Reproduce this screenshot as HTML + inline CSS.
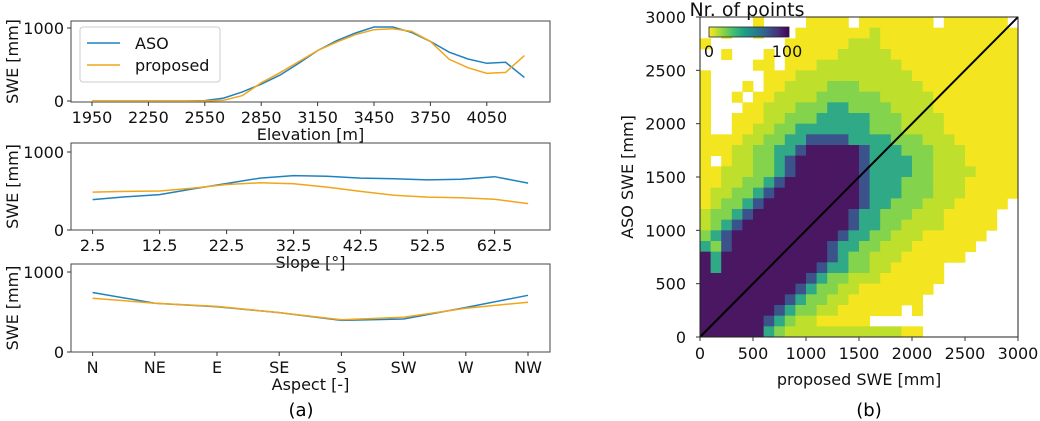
<!DOCTYPE html>
<html><head><meta charset="utf-8">
<style>
html,body{margin:0;padding:0;background:#fff;}
svg{display:block;font-family:"DejaVu Sans","Liberation Sans",sans-serif;}
</style></head>
<body>
<svg id="fig" width="1040" height="421" viewBox="0 0 1040 421" xmlns="http://www.w3.org/2000/svg">
<g id="left"></g>
<g id="right"></g>
<text x="301" y="416" font-size="18" text-anchor="middle">(a)</text>
<text x="869" y="416" font-size="18" text-anchor="middle">(b)</text>
</svg>
<script>
// ---------- Line chart data ----------
const elevCats = [1950,2050,2150,2250,2350,2450,2550,2650,2750,2850,2950,3050,3150,3250,3350,3450,3550,3650,3750,3850,3950,4050,4150,4250];
const elevASO  = [0,0,0,0,0,0,5,40,124,230,355,516,690,825,930,1014,1014,940,816,668,576,516,530,323];
const elevProp = [0,0,0,0,0,0,0,10,74,250,387,540,690,806,908,977,990,954,816,571,456,378,392,622];
const elevTicks = [1950,2250,2550,2850,3150,3450,3750,4050];
const slopeCats = [2.5,7.5,12.5,17.5,22.5,27.5,32.5,37.5,42.5,47.5,52.5,57.5,62.5,67.5];
const slopeASO  = [390,425,454,527,596,665,697,688,665,656,642,651,683,601];
const slopeProp = [486,495,500,537,583,605,592,550,495,445,422,413,394,339];
const slopeTicks = [2.5,12.5,22.5,32.5,42.5,52.5,62.5];
const aspectCats = ["N","NE","E","SE","S","SW","W","NW"];
const aspectASO  = [744,610,565,493,395,413,556,709];
const aspectProp = [673,610,570,493,404,435,547,623];
const yTicksLeft = [0,1000];
// ---------- Heatmap data (level 0..6 per 100 mm bin; top row = 2900-3000 mm) ----------
const heatRows = [
"00000 10000 11110 11111 11011 11110",
"00100 10001 11111 12111 11111 11111",
"10000 00011 11112 22111 11111 11111",
"00100 01011 11122 22211 11111 11111",
"00000 11011 12222 22221 11111 11111",
"10000 01112 22222 22222 11111 11111",
"10001 01122 22333 22222 21111 11111",
"10010 11222 23333 33222 22111 11111",
"10001 12223 33443 33322 22111 11111",
"10011 12233 34444 43332 22211 11111",
"10011 22334 44444 43332 22211 11111",
"11112 23344 55554 44433 32221 11111",
"11122 33445 66666 54443 33222 11111",
"10122 33456 66666 54444 33222 11111",
"11222 33456 66666 54444 33222 21111",
"11223 34566 66666 54443 33222 11111",
"12233 45666 66666 54443 33222 11111",
"12334 56666 66666 54433 32221 11110",
"23345 66666 66665 44333 22211 11100",
"23456 66666 66665 44332 22211 11100",
"34566 66666 66654 43322 21111 11000",
"43566 66666 66544 33222 11111 10000",
"64666 66666 66543 32221 11111 00000",
"64666 66666 65443 32211 11100 00000",
"66666 66666 54332 22111 11100 00000",
"66666 66665 43322 11111 11000 00000",
"66666 66654 33221 11111 10000 00000",
"66666 66543 32211 11110 10000 00000",
"66666 65432 21111 10000 00000 00000",
"66666 64322 22222 22221 10000 00000"
];
const heatTicks = [0,500,1000,1500,2000,2500,3000];
const levelColors = ["none","#f3e520","#bfdf2d","#83d34c","#2fa986","#3b528b","#4a1763"];

const NS="http://www.w3.org/2000/svg";
function mk(tag, attrs, parent){const e=document.createElementNS(NS,tag);for(const k in attrs)e.setAttribute(k,attrs[k]);parent.appendChild(e);return e;}
function txt(parent,x,y,s,size,anchor,name){const t=mk("text",{x:x,y:y,"font-size":size,"text-anchor":anchor,fill:"#111"},parent);t.textContent=s;


return t;}

const L=document.getElementById("left");
function lineChart(opt){
  const g=mk("g",{},L);
  
  
  const x0=71,x1=550;
  const sx=opt.sx, sy=v=>opt.y0+(opt.y1000-opt.y0)*v/1000;
  const frame=mk("rect",{x:x0,y:opt.top,width:x1-x0,height:opt.bot-opt.top,fill:"none",stroke:"#444","stroke-width":1},g);
  
  
  yTicksLeft.forEach(v=>{const y=sy(v);
    const tk=mk("line",{x1:x0-4,x2:x0,y1:y,y2:y,stroke:"#333"},g);
    
    
    txt(g,x0-7,y+6,String(v),16,"end","y-tick-label");});
  opt.ticks.forEach((v,i)=>{const x=sx(v,i);
    const tk=mk("line",{x1:x,x2:x,y1:opt.bot,y2:opt.bot+4,stroke:"#333"},g);
    
    
    txt(g,x,opt.bot+21,String(v),16,"middle","x-tick-label");});
  const series=[[opt.aso,"#1f82c0","aso-line"],[opt.prop,"#f2a51a","proposed-line"]];
  series.forEach(([arr,c,n])=>{
    const pts=arr.map((v,i)=>sx(opt.cats[i],i).toFixed(1)+","+sy(v).toFixed(1)).join(" ");
    const p=mk("polyline",{points:pts,fill:"none",stroke:c,"stroke-width":1.5},g);
    
    
  });
  txt(g,(x0+x1)/2,opt.bot+38,opt.xlabel,16,"middle","x-axis-title");
  const yl=txt(g,0,0,"SWE [mm]",16,"middle","y-axis-title");
  yl.setAttribute("transform","translate(18,"+((opt.top+opt.bot)/2)+") rotate(-90)");
  return g;
}
const g1=lineChart({name:"elevation-chart",top:21,bot:102,y0:101,y1000:28,cats:elevCats,aso:elevASO,prop:elevProp,ticks:elevTicks,
  sx:v=>92+(v-1950)/300*56.4,xlabel:"Elevation [m]"});
lineChart({name:"slope-chart",top:143,bot:230,y0:230,y1000:152,cats:slopeCats,aso:slopeASO,prop:slopeProp,ticks:slopeTicks,
  sx:v=>92.6+(v-2.5)/10*67,xlabel:"Slope [°]"});
lineChart({name:"aspect-chart",top:264,bot:352,y0:352,y1000:272,cats:aspectCats,aso:aspectASO,prop:aspectProp,ticks:aspectCats,
  sx:(v,i)=>92.6+i*62.2,xlabel:"Aspect [-]"});
// legend
const lg=mk("g",{},g1);


mk("rect",{x:80,y:27,width:140,height:55,rx:3,fill:"#fff",stroke:"#ccc"},lg);
const le1=mk("line",{x1:87,x2:120,y1:43,y2:43,stroke:"#1f82c0","stroke-width":1.5},lg);


txt(lg,135,49,"ASO",16,"start","legend-label-aso");
const le2=mk("line",{x1:87,x2:120,y1:65,y2:65,stroke:"#f2a51a","stroke-width":1.5},lg);


txt(lg,135,71,"proposed",16,"start","legend-label-proposed");

// ---------- Heatmap ----------
const R=document.getElementById("right");
const hx0=700,hx1=1018,hy0=337,hy1=17;
const hx=v=>hx0+(hx1-hx0)*v/3000, hy=v=>hy0+(hy1-hy0)*v/3000;
const cells=mk("g",{},R);


heatRows.forEach((rowRaw,r)=>{
  const row=rowRaw.replace(/ /g,"");
  const yv=(heatRows.length-1-r)*100;
  for(let i=0;i<30;i++){
    const lv=+(row[i]||0); if(!lv) continue;
    const xv=i*100;
    const c=mk("rect",{x:hx(xv).toFixed(2),y:hy(yv+100).toFixed(2),width:(hx(xv+100)-hx(xv)+0.4).toFixed(2),height:(hy(yv)-hy(yv+100)+0.4).toFixed(2),fill:levelColors[lv]},cells);
    
    
  }
});
const diag=mk("line",{x1:hx(0),y1:hy(0),x2:hx(3000),y2:hy(3000),stroke:"#000","stroke-width":2},R);


const hf=mk("rect",{x:hx0,y:hy1,width:hx1-hx0,height:hy0-hy1,fill:"none",stroke:"#222","stroke-width":1},R);


heatTicks.forEach(v=>{
  const tx=mk("line",{x1:hx(v),x2:hx(v),y1:hy0,y2:hy0+4,stroke:"#333"},R);
  
  
  txt(R,hx(v),hy0+22,String(v),16,"middle","x-tick-label");
  const ty=mk("line",{x1:hx0-4,x2:hx0,y1:hy(v),y2:hy(v),stroke:"#333"},R);
  
  
  txt(R,hx0-14,hy(v)+6,String(v),16,"end","y-tick-label");
});
txt(R,(hx0+hx1)/2,hy0+48,"proposed SWE [mm]",16,"middle","x-axis-title");
const hyl=txt(R,0,0,"ASO SWE [mm]",16,"middle","y-axis-title");
hyl.setAttribute("transform","translate(633,"+((hy0+hy1)/2)+") rotate(-90)");
// colorbar
const defs=mk("defs",{},R);
const grad=mk("linearGradient",{id:"vir",x1:"0",x2:"1",y1:"0",y2:"0"},defs);
["#fde725","#a0da39","#4ac16d","#1fa187","#277f8e","#365c8d","#46327e","#440154"].forEach((c,i,a)=>mk("stop",{offset:(i/(a.length-1)),"stop-color":c},grad));
const cb=mk("rect",{x:709,y:27,width:80,height:10,fill:"url(#vir)",stroke:"#222","stroke-width":0.8},R);


txt(R,709,57,"0",16,"middle","colorbar-tick-label");
txt(R,787,57,"100",16,"middle","colorbar-tick-label");
txt(R,747,16,"Nr. of points",19,"middle","colorbar-title");
</script>
</body></html>
